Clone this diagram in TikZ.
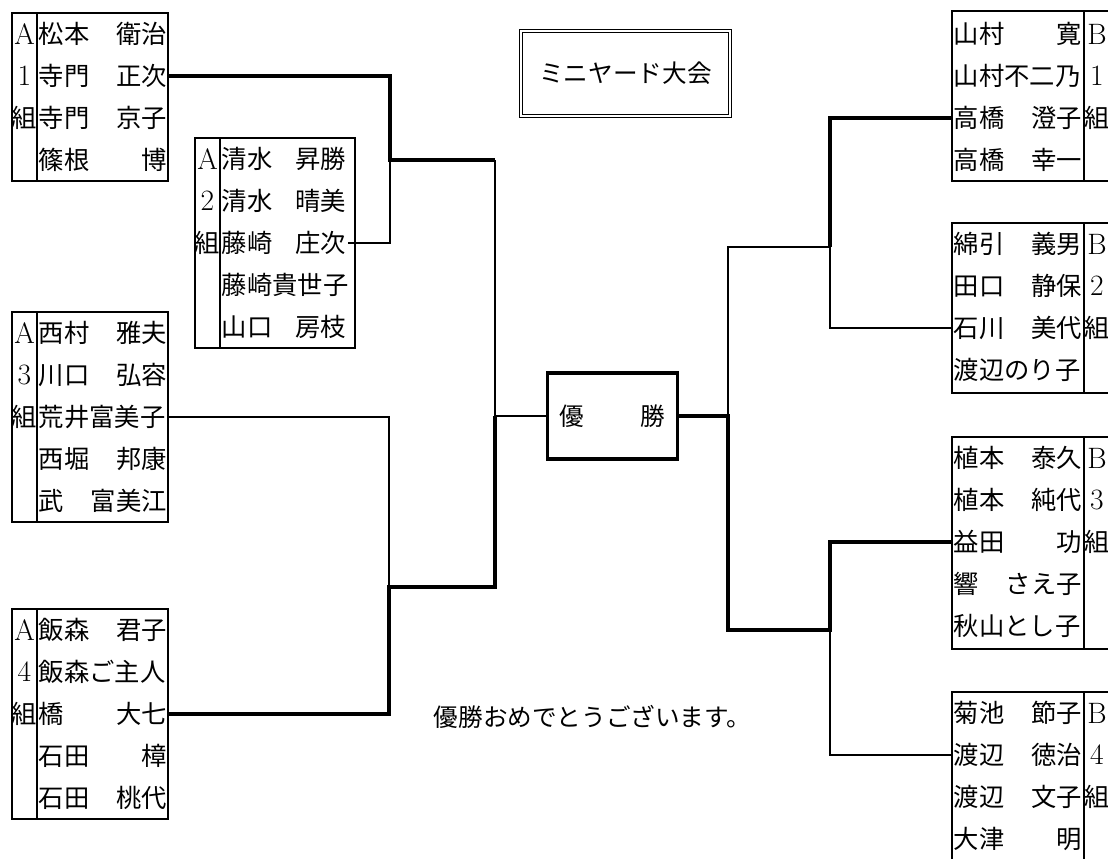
\documentclass[tikz,border=0pt]{standalone}
\usepackage{fontspec}
\newfontfamily\jp{Noto Sans CJK JP}
\usetikzlibrary{calc}

\tikzset{
  nm/.style={anchor=west,inner xsep=0.04cm,inner ysep=0pt,text width=3.2cm,font=\jp\fontsize{18}{20}\selectfont},
  lb/.style={inner sep=0pt,font=\fontsize{21}{22}\selectfont},
  win/.style={line width=2.4pt},
  lose/.style={line width=0.8pt},
}

\begin{document}
\begin{tikzpicture}[x=0.025cm,y=-0.025cm]
		%%%%% START %%%%%
		\useasboundingbox (0,0) rectangle (1108,858);
		\clip (0,0) rectangle (1108,858);
		
		% A groups
		\draw[lose] (12,13) rectangle (168,181);
		\draw[lose] (37,13) -- (37,181);
		\foreach \t [count=\i] in {A,1,\jp\fontsize{18}{20}\selectfont 組} \node[lb] (a1l-\i) at (24.5,13+42*\i-21) {\t};
		\foreach \t [count=\i] in {松本\hfill 衛治,寺門\hfill 正次,寺門\hfill 京子,篠根\hfill 博}
			\node[nm] (a1-\i) at (37,13+42*\i-21) {\t};
		
		\draw[lose] (195,138) rectangle (355,348);
		\draw[lose] (220,138) -- (220,348);
		\foreach \t [count=\i] in {A,2,\jp\fontsize{18}{20}\selectfont 組} \node[lb] (a2l-\i) at (207.5,138+42*\i-21) {\t};
		\foreach \t [count=\i] in {清水\hfill 昇勝,清水\hfill 晴美,藤崎\hfill 庄次,藤崎貴世子,山口\hfill 房枝}
			\node[nm,text width=3.1cm] (a2-\i) at (220,138+42*\i-21) {\t};
		
		\draw[lose] (12,312) rectangle (168,522);
		\draw[lose] (37,312) -- (37,522);
		\foreach \t [count=\i] in {A,3,\jp\fontsize{18}{20}\selectfont 組} \node[lb] (a3l-\i) at (24.5,312+42*\i-21) {\t};
		\foreach \t [count=\i] in {西村\hfill 雅夫,川口\hfill 弘容,荒井富美子,西堀\hfill 邦康,武\hfill 富美江}
			\node[nm] (a3-\i) at (37,312+42*\i-21) {\t};
		
		\draw[lose] (12,609) rectangle (168,819);
		\draw[lose] (37,609) -- (37,819);
		\foreach \t [count=\i] in {A,4,\jp\fontsize{18}{20}\selectfont 組} \node[lb] (a4l-\i) at (24.5,609+42*\i-21) {\t};
		\foreach \t [count=\i] in {飯森\hfill 君子,飯森ご主人,橋\hfill 大七,石田\hfill 樟,石田\hfill 桃代}
			\node[nm] (a4-\i) at (37,609+42*\i-21) {\t};
		
		% B groups
		\draw[lose] (952,11) rectangle (1110,181);
		\draw[lose] (1084,11) -- (1084,181);
		\foreach \t [count=\i] in {B,1,\jp\fontsize{18}{20}\selectfont 組} \node[lb] (b1l-\i) at (1097,13+42*\i-21) {\t};
		\foreach \t [count=\i] in {山村\hfill 寛,山村不二乃,高橋\hfill 澄子,高橋\hfill 幸一}
			\node[nm] (b1-\i) at (952,13+42*\i-21) {\t};
		
		\draw[lose] (952,223) rectangle (1110,393);
		\draw[lose] (1084,223) -- (1084,393);
		\foreach \t [count=\i] in {B,2,\jp\fontsize{18}{20}\selectfont 組} \node[lb] (b2l-\i) at (1097,223+42*\i-21) {\t};
		\foreach \t [count=\i] in {綿引\hfill 義男,田口\hfill 静保,石川\hfill 美代,渡辺のり子}
			\node[nm] (b2-\i) at (952,223+42*\i-21) {\t};
		
		\draw[lose] (952,437) rectangle (1110,649);
		\draw[lose] (1084,437) -- (1084,649);
		\foreach \t [count=\i] in {B,3,\jp\fontsize{18}{20}\selectfont 組} \node[lb] (b3l-\i) at (1097,437+42*\i-21) {\t};
		\foreach \t [count=\i] in {植本\hfill 泰久,植本\hfill 純代,益田\hfill 功,響\hfill さえ子,秋山とし子}
			\node[nm] (b3-\i) at (952,437+42*\i-21) {\t};
		
		\draw[lose] (952,692) rectangle (1110,862);
		\draw[lose] (1084,692) -- (1084,862);
		\foreach \t [count=\i] in {B,4,\jp\fontsize{18}{20}\selectfont 組} \node[lb] (b4l-\i) at (1097,692+42*\i-21) {\t};
		\foreach \t [count=\i] in {菊池\hfill 節子,渡辺\hfill 徳治,渡辺\hfill 文子,大津\hfill 明}
			\node[nm] (b4-\i) at (952,692+42*\i-21) {\t};
		
		% title and final
		\node[draw,line width=1.2pt,minimum width=5.3cm,minimum height=2.2cm,font=\jp\fontsize{17.5}{20}\selectfont] (title) at (625.5,73.5) {ミニヤード大会};
		\draw[lose] ($(title.north west)+(4,4)$) rectangle ($(title.south east)+(-4,-4)$);
		\node[draw,line width=2.2pt,minimum width=3.25cm,minimum height=2.15cm,font=\jp\fontsize{17.5}{20}\selectfont] (champ) at (612.5,416) {優\hspace{1.4cm}勝};
		\node[inner sep=0pt,font=\jp\fontsize{17.5}{20}\selectfont] (msg) at (592.5,717) {優勝おめでとうございます。};
		
		% bracket, left
		\coordinate (s1) at (390,160);
		\coordinate (s2) at (389,587);
		\coordinate (l1) at (495,160);
		\coordinate (l2) at (495,587);
		\coordinate (lm) at (495,416);
		\draw[win] (a1-2.east) -| (s1) -- (l1);
		\draw[lose] (a2-3.east) -| (s1);
		\draw[lose] (a3-3.east) -| (s2);
		\draw[win] (a4-3.east) -| (s2) -- (l2) -- (lm);
		\draw[lose] (l1) -- (lm) -- (champ.west);
		
		% bracket, right
		\coordinate (q1) at (830,247);
		\coordinate (q2) at (830,630);
		\coordinate (r1) at (728,247);
		\coordinate (r2) at (728,630);
		\coordinate (rm) at (728,416);
		\draw[win] (b1-3.west) -| (q1);
		\draw[lose] (b2-3.west) -| (q1) -- (r1) -- (rm);
		\draw[win] (b3-3.west) -| (q2) -- (r2) -- (rm) -- (champ.east);
		\draw[lose] (b4-2.west) -| (q2);
		
		%%%%% END %%%%%
\end{tikzpicture}
\end{document}
